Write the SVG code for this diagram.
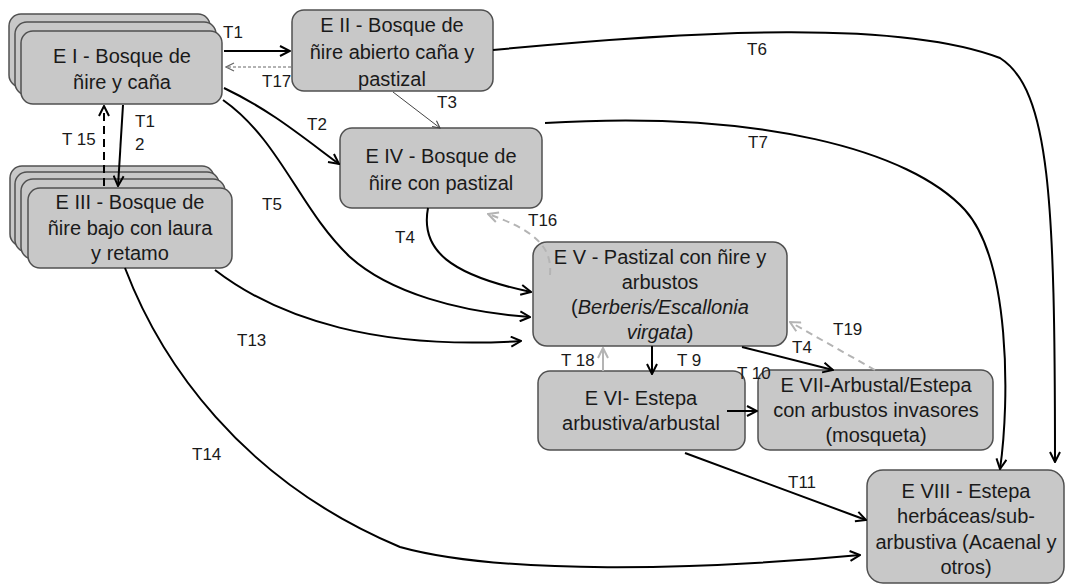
<svg xmlns="http://www.w3.org/2000/svg" width="1066" height="588" viewBox="0 0 1066 588">
<style>
.box{fill:#c8c8c8;stroke:#505050;stroke-width:1.5}
.nt{font-family:"Liberation Sans",Arial,sans-serif;font-size:20px;fill:#1a1a1a;text-anchor:middle}
.lb{font-family:"Liberation Sans",Arial,sans-serif;font-size:17px;fill:#1a1a1a}
.c{fill:none;stroke:#000;stroke-width:2;marker-end:url(#ah)}
.thin{fill:none;stroke:#444;stroke-width:1;marker-end:url(#ahs)}
.gd{fill:none;stroke:#b4b4b4;stroke-width:2;stroke-dasharray:7 5;marker-end:url(#ahg)}
</style>
<defs>
<marker id="ah" viewBox="0 0 12 12" refX="11" refY="6" markerWidth="12" markerHeight="12" markerUnits="userSpaceOnUse" orient="auto"><path d="M1,1 L11,6 L1,11" fill="none" stroke="#000" stroke-width="2"/></marker>
<marker id="ahs" viewBox="0 0 10 10" refX="9" refY="5" markerWidth="9" markerHeight="9" markerUnits="userSpaceOnUse" orient="auto"><path d="M1,1 L9,5 L1,9" fill="none" stroke="#444" stroke-width="1.2"/></marker>
<marker id="ahg" viewBox="0 0 12 12" refX="11" refY="6" markerWidth="12" markerHeight="12" markerUnits="userSpaceOnUse" orient="auto"><path d="M1,1 L11,6 L1,11" fill="none" stroke="#b4b4b4" stroke-width="2"/></marker>
<marker id="ahd" viewBox="0 0 10 10" refX="9" refY="5" markerWidth="10" markerHeight="10" markerUnits="userSpaceOnUse" orient="auto"><path d="M1,1 L9,5 L1,9" fill="none" stroke="#666" stroke-width="1.2"/></marker>
</defs>

<g id="nodes">
<g id="E1">
<rect class="box" x="9" y="14" width="201" height="73" rx="12"/>
<rect class="box" x="15" y="22" width="201" height="73" rx="12"/>
<rect class="box" x="21" y="31" width="201" height="73" rx="12"/>
<text class="nt" x="122" y="63">E I - Bosque de</text>
<text class="nt" x="122" y="89">ñire y caña</text>
</g>
<g id="E2">
<rect class="box" x="292" y="10" width="201" height="81" rx="12"/>
<text class="nt" x="392" y="32">E II - Bosque de</text>
<text class="nt" x="392" y="59">ñire abierto caña y</text>
<text class="nt" x="392" y="86">pastizal</text>
</g>
<g id="E3">
<rect class="box" x="10" y="166" width="204" height="80" rx="12"/>
<rect class="box" x="15" y="172" width="204" height="80" rx="12"/>
<rect class="box" x="21" y="179" width="204" height="80" rx="12"/>
<rect class="box" x="28" y="188" width="204" height="80" rx="12"/>
<text class="nt" x="130" y="209">E III - Bosque de</text>
<text class="nt" x="130" y="235">ñire bajo con laura</text>
<text class="nt" x="130" y="260">y retamo</text>
</g>
<g id="E4">
<rect class="box" x="340" y="128" width="202" height="80" rx="12"/>
<text class="nt" x="441" y="163">E IV - Bosque de</text>
<text class="nt" x="441" y="190">ñire con pastizal</text>
</g>
<g id="E5">
<rect class="box" x="533" y="242" width="254" height="104" rx="14"/>
<text class="nt" x="660" y="264">E V - Pastizal con ñire y</text>
<text class="nt" x="660" y="289">arbustos</text>
<text class="nt" x="660" y="314">(<tspan font-style="italic">Berberis/Escallonia</tspan></text>
<text class="nt" x="660" y="339"><tspan font-style="italic">virgata</tspan>)</text>
</g>
<g id="E6">
<rect class="box" x="538" y="371" width="207" height="79" rx="12"/>
<text class="nt" x="641" y="405">E VI- Estepa</text>
<text class="nt" x="641" y="430">arbustiva/arbustal</text>
</g>
<g id="E7">
<rect class="box" x="758" y="370" width="235" height="80" rx="12"/>
<text class="nt" x="876" y="392">E VII-Arbustal/Estepa</text>
<text class="nt" x="876" y="417">con arbustos invasores</text>
<text class="nt" x="876" y="442">(mosqueta)</text>
</g>
<g id="E8">
<rect class="box" x="867" y="470" width="197" height="113" rx="16"/>
<text class="nt" x="966" y="498">E VIII - Estepa</text>
<text class="nt" x="966" y="523">herbáceas/sub-</text>
<text class="nt" x="966" y="549">arbustiva (Acaenal y</text>
<text class="nt" x="966" y="574">otros)</text>
</g>
</g>

<g id="connectors">
<path class="c" d="M224,51 L290,51"/>
<path d="M291,67 L226,67" fill="none" stroke="#666" stroke-width="1" stroke-dasharray="3 2" marker-end="url(#ahd)"/>
<path class="thin" d="M393,92 L440,128"/>
<path class="c" d="M224,88 C 270,110 300,135 339,164"/>
<path class="c" d="M223,100 C 280,140 300,210 350,257 C 390,293 460,312 530,317"/>
<path class="c" d="M123,105 L118,186"/>
<path d="M104,186 L104,106" fill="none" stroke="#000" stroke-width="2" stroke-dasharray="8 5" marker-end="url(#ah)"/>
<path class="c" d="M493,50 C 700,30 900,20 1000,58 C 1050,90 1055,200 1055,462"/>
<path class="c" d="M545,123 C 760,110 910,150 965,210 C 1010,260 1010,400 1000,469"/>
<path class="c" d="M428,208 C 420,250 450,275 531,292"/>
<path class="c" d="M215,270 C 280,320 380,350 521,341"/>
<path class="gd" d="M550,275 C 552,250 540,232 488,214"/>
<path class="c" d="M652,346 L652,374"/>
<path d="M603,371 L603,348" fill="none" stroke="#b4b4b4" stroke-width="2" marker-end="url(#ahg)"/>
<path class="c" d="M727,411 L757,411"/>
<path class="c" d="M742,347 L833,370"/>
<path class="gd" d="M875,370 L790,322"/>
<path class="c" d="M685,453 L866,520"/>
<path class="c" d="M125,268 C 160,360 240,480 400,547 C 500,575 700,570 860,555"/>
</g>

<g id="labels">
<text class="lb" x="223" y="38">T1</text>
<text class="lb" x="262" y="87">T17</text>
<text class="lb" x="135" y="127">T1</text>
<text class="lb" x="135" y="150">2</text>
<text class="lb" x="62" y="145">T 15</text>
<text class="lb" x="307" y="130">T2</text>
<text class="lb" x="437" y="108">T3</text>
<text class="lb" x="262" y="210">T5</text>
<text class="lb" x="395" y="243">T4</text>
<text class="lb" x="528" y="226">T16</text>
<text class="lb" x="237" y="346">T13</text>
<text class="lb" x="192" y="460">T14</text>
<text class="lb" x="747" y="55">T6</text>
<text class="lb" x="748" y="148">T7</text>
<text class="lb" x="561" y="366">T 18</text>
<text class="lb" x="677" y="366">T 9</text>
<text class="lb" x="737" y="379">T 10</text>
<text class="lb" x="792" y="353">T4</text>
<text class="lb" x="833" y="335">T19</text>
<text class="lb" x="788" y="488">T11</text>
</g>
</svg>
